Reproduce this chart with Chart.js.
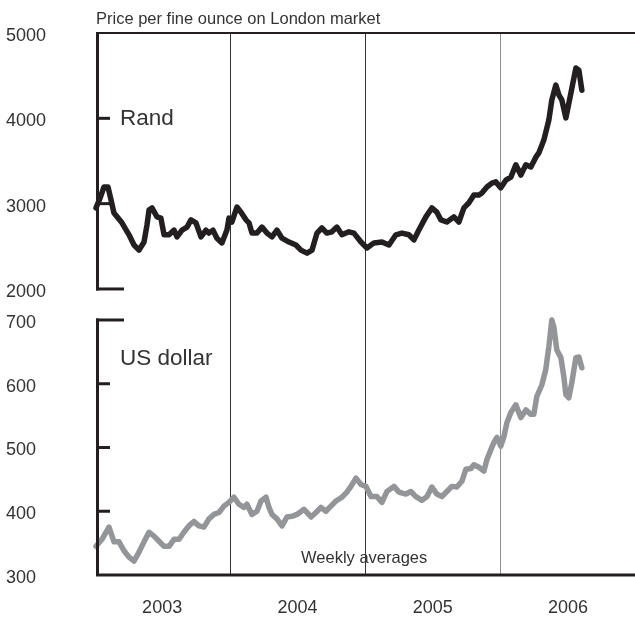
<!DOCTYPE html>
<html>
<head>
<meta charset="utf-8">
<script src="https://cdn.jsdelivr.net/npm/chart.js@4.4.1/dist/chart.umd.min.js"></script>
<style>
  html, body { margin: 0; padding: 0; background: #fff; }
  #wrap { position: relative; width: 635px; height: 620px; }
</style>
</head>
<body>
<div id="wrap"><canvas id="gold" width="635" height="620"></canvas></div>
<script>
// Gold price, weekly averages
const randYears = [
  2003.011, 2003.041, 2003.070, 2003.100, 2003.122, 2003.144, 2003.203, 2003.255, 2003.292, 2003.329,
  2003.366, 2003.388, 2003.403, 2003.425, 2003.462, 2003.491, 2003.514, 2003.551, 2003.588, 2003.610,
  2003.647, 2003.684, 2003.713, 2003.750, 2003.787, 2003.824, 2003.846, 2003.876, 2003.905, 2003.942,
  2003.979, 2003.994, 2004.016, 2004.053, 2004.083, 2004.120, 2004.142, 2004.164, 2004.201, 2004.238,
  2004.275, 2004.312, 2004.349, 2004.386, 2004.438, 2004.489, 2004.526, 2004.571, 2004.608, 2004.645,
  2004.681, 2004.718, 2004.755, 2004.792, 2004.829, 2004.881, 2004.918, 2004.970, 2005.014, 2005.066,
  2005.125, 2005.177, 2005.228, 2005.273, 2005.324, 2005.361, 2005.398, 2005.450, 2005.494, 2005.531,
  2005.561, 2005.605, 2005.657, 2005.694, 2005.731, 2005.768, 2005.805, 2005.842, 2005.864, 2005.901,
  2005.938, 2005.967, 2006.004, 2006.041, 2006.078, 2006.115, 2006.152, 2006.189, 2006.226, 2006.263,
  2006.285, 2006.322, 2006.359, 2006.381, 2006.411, 2006.433, 2006.455, 2006.485, 2006.522, 2006.559,
  2006.581, 2006.603
];
const rand = [
  2950, 3065, 3195, 3195, 3045, 2890, 2775, 2635, 2515, 2455,
  2550, 2750, 2925, 2950, 2845, 2830, 2635, 2635, 2690, 2610,
  2690, 2725, 2810, 2775, 2610, 2690, 2655, 2690, 2595, 2540,
  2690, 2830, 2785, 2960, 2900, 2810, 2775, 2655, 2655, 2725,
  2655, 2610, 2690, 2595, 2550, 2515, 2455, 2420, 2455, 2655,
  2715, 2655, 2670, 2725, 2635, 2670, 2655, 2550, 2480, 2540,
  2550, 2515, 2635, 2655, 2635, 2575, 2690, 2845, 2950, 2900,
  2810, 2785, 2845, 2785, 2950, 3010, 3100, 3100, 3125, 3195,
  3240, 3255, 3185, 3275, 3310, 3455, 3335, 3455, 3430, 3545,
  3595, 3745, 3980, 4215, 4390, 4275, 4215, 4005, 4295, 4590,
  4565, 4330
];

const usdYears = [
  2003.011, 2003.055, 2003.107, 2003.144, 2003.181, 2003.218, 2003.255, 2003.292, 2003.329, 2003.366,
  2003.403, 2003.440, 2003.477, 2003.514, 2003.551, 2003.588, 2003.625, 2003.661, 2003.698, 2003.735,
  2003.772, 2003.809, 2003.846, 2003.883, 2003.920, 2003.957, 2003.994, 2004.031, 2004.068, 2004.105,
  2004.127, 2004.164, 2004.201, 2004.231, 2004.268, 2004.290, 2004.312, 2004.349, 2004.386, 2004.423,
  2004.460, 2004.497, 2004.549, 2004.601, 2004.637, 2004.674, 2004.711, 2004.748, 2004.785, 2004.829,
  2004.866, 2004.896, 2004.933, 2004.970, 2005.007, 2005.044, 2005.088, 2005.125, 2005.162, 2005.214,
  2005.251, 2005.302, 2005.339, 2005.376, 2005.421, 2005.458, 2005.494, 2005.531, 2005.568, 2005.605,
  2005.642, 2005.679, 2005.716, 2005.746, 2005.783, 2005.805, 2005.842, 2005.879, 2005.901, 2005.931,
  2005.953, 2005.975, 2006.004, 2006.027, 2006.049, 2006.078, 2006.115, 2006.152, 2006.189, 2006.226,
  2006.248, 2006.270, 2006.307, 2006.336, 2006.359, 2006.381, 2006.396, 2006.418, 2006.448, 2006.470,
  2006.485, 2006.507, 2006.529, 2006.559, 2006.581, 2006.603
];
const usd = [
  345, 356, 375, 352, 352, 338, 328, 322, 336, 352,
  367, 361, 353, 345, 345, 356, 356, 367, 377, 384,
  377, 375, 388, 395, 398, 408, 414, 422, 411, 406,
  411, 395, 400, 416, 422, 406, 395, 388, 377, 391,
  392, 395, 403, 391, 398, 406, 400, 408, 416, 422,
  430, 439, 452, 442, 439, 423, 423, 414, 431, 439,
  430, 427, 431, 423, 417, 423, 438, 427, 423, 431,
  439, 438, 447, 466, 467, 473, 469, 463, 481, 497,
  508, 516, 502, 517, 539, 555, 567, 547, 559, 552,
  552, 580, 598, 622, 658, 700, 689, 653, 641, 611,
  583, 578, 602, 641, 642, 625
];

const yearLabels = [2003, 2004, 2005, 2006];
const yearBreaks = [2004, 2005, 2006];
const randTicks = [2000, 3000, 4000, 5000];
const usdTicks = [300, 400, 500, 600, 700];

const FONT = '"Liberation Sans", Arial, sans-serif';
const INK = '#231f20';
const GREY = '#939598';
const TEXT = '#333333';

function line(ctx, x1, y1, x2, y2, w, col) {
  ctx.strokeStyle = col;
  ctx.lineWidth = w;
  ctx.beginPath();
  ctx.moveTo(x1, y1);
  ctx.lineTo(x2, y2);
  ctx.stroke();
}

// axes, ticks and year dividers drawn by hand, like the printed chart
const frame = {
  id: 'frame',
  beforeDatasetsDraw(chart) {
    const { ctx, scales } = chart;
    const x = scales.x, yR = scales.yR, yD = scales.yD;
    const top = yR.getPixelForValue(5000);
    const bot = yD.getPixelForValue(300);
    ctx.save();
    yearBreaks.forEach((yr, i) => {
      const px = Math.round(x.getPixelForValue(yr)) + 0.5;
      line(ctx, px, top, px, bot, 1, i === 2 ? '#8c8c8c' : '#333');
    });
    ctx.restore();
  },
  afterDatasetsDraw(chart) {
    const { ctx, chartArea: a, scales } = chart;
    const yR = scales.yR, yD = scales.yD;
    const ax = a.left + 1.5;
    ctx.save();
    ctx.lineCap = 'butt';
    // rand panel
    const rTop = yR.getPixelForValue(5000);
    const rBot = yR.getPixelForValue(2000);
    line(ctx, a.left, rTop, a.right, rTop, 2, INK);
    line(ctx, ax, rTop - 1, ax, rBot + 1.5, 3, INK);
    line(ctx, a.left, rBot, a.left + 28, rBot, 3, INK);
    [3000, 4000].forEach(v => {
      const py = yR.getPixelForValue(v);
      line(ctx, a.left, py, a.left + 14, py, 3, INK);
    });
    // dollar panel
    const dTop = yD.getPixelForValue(700);
    const dBot = yD.getPixelForValue(300);
    line(ctx, ax, dTop - 1.5, ax, dBot, 3, INK);
    line(ctx, a.left, dTop, a.left + 28, dTop, 3, INK);
    [400, 500, 600].forEach(v => {
      const py = yD.getPixelForValue(v);
      line(ctx, a.left, py, a.left + 14, py, 3, INK);
    });
    line(ctx, a.left, dBot, a.right, dBot, 3, INK);

    // captions
    ctx.fillStyle = TEXT;
    ctx.textAlign = 'left';
    ctx.textBaseline = 'alphabetic';
    ctx.font = '16.5px ' + FONT;
    ctx.fillText('Price per fine ounce on London market', 96, 24);
    ctx.font = '22.5px ' + FONT;
    ctx.fillText('Rand', 120, 125);
    ctx.fillText('US dollar', 120, 365);
    ctx.font = '16.5px ' + FONT;
    ctx.fillText('Weekly averages', 301, 563);
    ctx.restore();
  }
};

const yTickStyle = {
  color: TEXT,
  font: { family: FONT, size: 18 },
  crossAlign: 'far',
  padding: 0,
  labelOffset: 3,
  callback: v => String(v)
};

new Chart(document.getElementById('gold'), {
  type: 'line',
  data: {
    datasets: [{
      label: 'Rand',
      data: randYears.map((t, i) => ({ x: t, y: rand[i] })),
      yAxisID: 'yR',
      borderColor: INK,
      borderWidth: 5.5,
      pointRadius: 0,
      borderJoinStyle: 'round',
      borderCapStyle: 'round',
      tension: 0,
      clip: false
    }, {
      label: 'US dollar',
      data: usdYears.map((t, i) => ({ x: t, y: usd[i] })),
      yAxisID: 'yD',
      borderColor: GREY,
      borderWidth: 5.5,
      pointRadius: 0,
      borderJoinStyle: 'round',
      borderCapStyle: 'round',
      tension: 0,
      clip: false
    }]
  },
  options: {
    responsive: false,
    animation: false,
    layout: { padding: { top: 33, left: 6, right: 0, bottom: 0 } },
    plugins: { legend: { display: false }, tooltip: { enabled: false } },
    scales: {
      x: {
        type: 'linear',
        min: 2003.011,
        max: 2006.996,
        grid: { display: false, drawTicks: false },
        border: { display: false },
        afterBuildTicks: s => { s.ticks = yearLabels.map(v => ({ value: v + 0.5 })); },
        afterFit: s => { s.height = 45; },
        ticks: {
          color: TEXT,
          font: { family: FONT, size: 18 },
          padding: 22,
          maxRotation: 0,
          autoSkip: false,
          callback: v => String(Math.floor(v))
        }
      },
      yD: {
        type: 'linear',
        position: 'left',
        stack: 'panels',
        stackWeight: 270.5,
        min: 300,
        max: 724.3,
        grid: { display: false, drawTicks: false },
        border: { display: false },
        afterBuildTicks: s => { s.ticks = usdTicks.map(v => ({ value: v })); },
        afterFit: s => { s.width = 90; },
        ticks: yTickStyle
      },
      yR: {
        type: 'linear',
        position: 'left',
        stack: 'panels',
        stackWeight: 271.5,
        min: 1818,
        max: 5000,
        grid: { display: false, drawTicks: false },
        border: { display: false },
        afterBuildTicks: s => { s.ticks = randTicks.map(v => ({ value: v })); },
        afterFit: s => { s.width = 90; },
        ticks: yTickStyle
      }
    }
  },
  plugins: [frame]
});
</script>
</body>
</html>
